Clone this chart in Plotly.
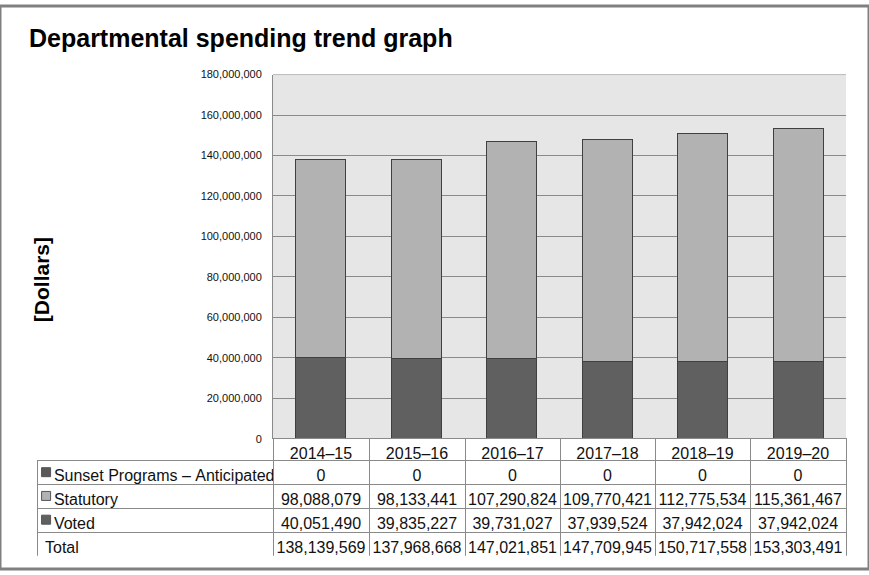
import plotly.graph_objects as go

W, H = 869, 575

years = ["2014–15", "2015–16", "2016–17", "2017–18", "2018–19", "2019–20"]
sunset = [0, 0, 0, 0, 0, 0]
statutory = [98088079, 98133441, 107290824, 109770421, 112775534, 115361467]
voted = [40051490, 39835227, 39731027, 37939524, 37942024, 37942024]
total = [138139569, 137968668, 147021851, 147709945, 150717558, 153303491]
row_names = ["Sunset Programs – Anticipated", "Statutory", "Voted", "Total"]
key_colors = ["#595959", "#b2b2b2", "#606060"]
y_ticks = [0, 20000000, 40000000, 60000000, 80000000, 100000000,
           120000000, 140000000, 160000000, 180000000]

c_voted = "#606060"
c_stat = "#b2b2b2"
c_sunset = "#595959"
grid = "#8a8a8a"
font = "Liberation Sans, Arial, sans-serif"
nb = "\u00a0"


def px_x(v):
    return v / W


def px_y(v):
    return 1 - v / H


fig = go.Figure()

fig.add_trace(go.Bar(x=years, y=voted, name="Voted",
                     marker=dict(color=c_voted, line=dict(color="#404040", width=1))))
fig.add_trace(go.Bar(x=years, y=statutory, name="Statutory",
                     marker=dict(color=c_stat, line=dict(color="#404040", width=1))))
fig.add_trace(go.Bar(x=years, y=sunset, name="Sunset Programs – Anticipated",
                     marker=dict(color=c_sunset, line=dict(width=0))))


def fmt(vals):
    return [f"{v:,}" for v in vals]


# keep labels on one line, leave room for the legend keys
labels = [(nb * 2 + n if i < 3 else n).replace(" ", nb) for i, n in enumerate(row_names)]
cols = [labels] + [[fmt(sunset)[i], fmt(statutory)[i], fmt(voted)[i], fmt(total)[i]]
                   for i in range(len(years))]

fig.add_trace(go.Table(
    domain=dict(x=[px_x(37), px_x(846)], y=[px_y(562), px_y(442)]),
    columnwidth=[236, 96, 96, 95, 95, 95, 96],
    header=dict(values=[""] + years, height=22,
                fill_color=["rgba(0,0,0,0)"] + ["white"] * 6,
                line=dict(color=["rgba(0,0,0,0)"] + [grid] * 6, width=1),
                align="center",
                font=dict(family=font, size=16, color="#111")),
    cells=dict(values=cols, height=24,
               fill_color=["rgba(0,0,0,0)"] + ["white"] * 6,
               line=dict(color=grid, width=1),
               align=["left"] + ["center"] * 6,
               font=dict(family=font, size=16, color="#111")),
))

# legend keys in the first table column
fig.add_trace(go.Scatter(
    x=[0, 0, 0], y=row_names[:3], xaxis="x2", yaxis="y2", mode="markers",
    marker=dict(symbol="square", size=9, color=key_colors,
                line=dict(color="#555555", width=1)),
    hoverinfo="skip"))

fig.update_layout(
    width=W, height=H,
    margin=dict(l=0, r=0, t=0, b=0),
    paper_bgcolor="white",
    plot_bgcolor="white",
    barmode="stack",
    bargap=0.48,
    showlegend=False,
    font=dict(family=font, color="#111"),
    xaxis=dict(domain=[px_x(273), px_x(846)], showticklabels=False,
               showgrid=False, zeroline=False, showline=False),
    yaxis=dict(domain=[px_y(442), px_y(70)], range=[0, 180000000],
               tickvals=y_ticks, tickformat=",", ticklabelstandoff=8,
               tickfont=dict(size=11, color="#111"),
               showgrid=True, gridcolor=grid, gridwidth=1,
               zeroline=False, showline=True, linecolor=grid, linewidth=1),
    xaxis2=dict(domain=[px_x(37), px_x(273)], range=[-1, 25], visible=False),
    yaxis2=dict(domain=[px_y(561), px_y(464)], categoryorder="array",
                categoryarray=row_names, range=[3.5, -0.5], visible=False),
    annotations=[
        dict(text="<b>Departmental spending trend graph</b>", xref="paper", yref="paper",
             x=px_x(27), y=px_y(49), xanchor="left", yanchor="bottom",
             showarrow=False, font=dict(size=25, color="black")),
        dict(text="<b>[Dollars]</b>", xref="paper", yref="paper",
             x=px_x(41), y=px_y(280), xanchor="center", yanchor="middle",
             textangle=-90, showarrow=False, font=dict(size=21, color="black")),
    ],
    shapes=[
        dict(type="rect", xref="x domain", yref="y domain", x0=0, x1=1, y0=0, y1=1,
             fillcolor="#e6e6e6", line=dict(width=0), layer="below"),
        dict(type="line", xref="x domain", yref="y", x0=0, x1=1,
             y0=180000000, y1=180000000, line=dict(color=grid, width=1)),
        dict(type="rect", xref="paper", yref="paper", x0=0, x1=1, y0=0, y1=1,
             line=dict(color="#808080", width=3)),
    ],
)

fig.write_html("out.html", config={"displayModeBar": False},
               post_script="document.body.style.margin='0';")
